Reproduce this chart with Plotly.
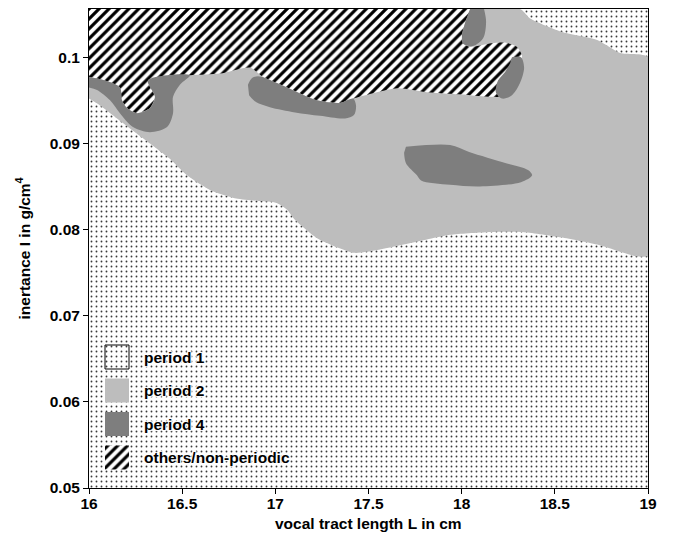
import plotly.graph_objects as go

# ---------------- data ----------------
X_RANGE = [16.0, 19.0]
Y_RANGE = [0.05, 0.1056]
X_TICKS = [16, 16.5, 17, 17.5, 18, 18.5, 19]
Y_TICKS = [0.05, 0.06, 0.07, 0.08, 0.09, 0.1]

# period 2 region: lower border (with period 1), left -> right
p2_low_x = [16.0, 16.059, 16.15, 16.247, 16.327, 16.429, 16.526, 16.649, 16.789, 16.918, 17.004, 17.063,
            17.106, 17.224, 17.422, 17.54, 17.739, 17.938, 18.136, 18.335, 18.533, 18.737, 18.936, 19.0]
p2_low_y = [0.0952, 0.0944, 0.0929, 0.0913, 0.0900, 0.0883, 0.0863, 0.0846, 0.0836, 0.0833, 0.0831, 0.0823,
            0.0811, 0.0790, 0.0773, 0.0776, 0.0785, 0.0794, 0.0797, 0.0797, 0.0791, 0.0782, 0.0769, 0.0770]
# period 2 region: border with the period-1 corner at upper right, right -> left
p2_up_x = [19.0, 18.85, 18.727, 18.544, 18.367, 18.313]
p2_up_y = [0.1000, 0.1005, 0.1020, 0.1029, 0.1045, 0.1056]

# others / non-periodic region (hatched)
hatch_x = [16.0, 18.045, 18.023, 18.002, 18.007, 18.045, 18.152, 18.233, 18.297, 18.324, 18.313, 18.286,
           18.249, 18.206, 18.168, 18.045, 17.83, 17.653, 17.417, 17.347, 17.224, 17.063, 16.934, 16.864,
           16.703, 16.542, 16.317, 16.354, 16.327, 16.258, 16.204, 16.177, 16.166, 16.086, 16.0]
hatch_y = [0.1056, 0.1056, 0.1043, 0.1026, 0.1016, 0.1012, 0.1016, 0.1017, 0.1012, 0.1002, 0.0991, 0.0973,
           0.0959, 0.0954, 0.0954, 0.0956, 0.0959, 0.0964, 0.0952, 0.0947, 0.0950, 0.0965, 0.0977, 0.0988,
           0.0981, 0.0979, 0.0973, 0.0954, 0.0941, 0.0935, 0.0941, 0.0950, 0.0965, 0.0973, 0.0977]

# period 4 islands
p4a_x = [16.0, 16.086, 16.166, 16.177, 16.204, 16.258, 16.327, 16.354, 16.317, 16.542, 16.488, 16.451,
         16.451, 16.419, 16.327, 16.236, 16.166, 16.113, 16.043, 16.0]
p4a_y = [0.0977, 0.0973, 0.0965, 0.0950, 0.0941, 0.0935, 0.0941, 0.0954, 0.0973, 0.0979, 0.0968, 0.0954,
         0.0935, 0.0919, 0.0913, 0.0919, 0.0935, 0.0950, 0.0962, 0.0965]
p4b_x = [16.853, 16.875, 16.907, 16.945, 17.063, 17.224, 17.347, 17.417, 17.433, 17.422, 17.374, 17.24,
         17.106, 16.971, 16.896, 16.859]
p4b_y = [0.0968, 0.0976, 0.0978, 0.0976, 0.0965, 0.0950, 0.0947, 0.0952, 0.0944, 0.0933, 0.0929, 0.0932,
         0.0936, 0.0942, 0.0948, 0.0956]
p4c_x = [17.701, 17.938, 18.04, 18.238, 18.356, 18.378, 18.318, 18.098, 17.938, 17.782, 17.76, 17.701, 17.691]
p4c_y = [0.0896, 0.0898, 0.0890, 0.0877, 0.0869, 0.0863, 0.0855, 0.0850, 0.0852, 0.0857, 0.0863, 0.0877, 0.0889]
p4d_x = [18.045, 18.023, 18.002, 18.007, 18.061, 18.115, 18.131, 18.12]
p4d_y = [0.1056, 0.1043, 0.1026, 0.1016, 0.1013, 0.1022, 0.1041, 0.1056]
p4e_x = [18.27, 18.318, 18.335, 18.313, 18.27, 18.217, 18.184, 18.195, 18.233, 18.26]
p4e_y = [0.1000, 0.1000, 0.0988, 0.0970, 0.0956, 0.0952, 0.0959, 0.0973, 0.0983, 0.0993]

legend_labels = ["period 1", "period 2", "period 4", "others/non-periodic"]

# ---------------- styles ----------------
FONT = "Liberation Sans, Arial, Helvetica, sans-serif"
GRAY2 = "#bdbdbd"
GRAY4 = "#7e7e7e"
DOTS = dict(shape=".", size=5, solidity=0.11, fgcolor="#3a3a3a", bgcolor="white", fillmode="replace")
HATCH = dict(shape="/", size=7, solidity=0.45, fgcolor="black", bgcolor="white", fillmode="replace")

fig = go.Figure()


def region(xs, ys, color=None, pattern=None, smooth=0.7, xaxis="x", yaxis="y", line=None):
    kw = dict(x=xs, y=ys, mode="lines", fill="toself", hoverinfo="skip", showlegend=False,
              xaxis=xaxis, yaxis=yaxis)
    if line is None:
        kw["line"] = dict(width=0, shape="spline", smoothing=smooth, color=color or "white")
    else:
        kw["line"] = line
    if pattern is not None:
        kw["fillpattern"] = pattern
        kw["fillcolor"] = "white"
    else:
        kw["fillcolor"] = color
    fig.add_trace(go.Scatter(**kw))


# period 1 background (whole parameter plane)
region([X_RANGE[0], X_RANGE[1], X_RANGE[1], X_RANGE[0]],
       [Y_RANGE[0], Y_RANGE[0], Y_RANGE[1], Y_RANGE[1]], pattern=DOTS, smooth=0)

# period 2
region(p2_low_x + p2_up_x + [X_RANGE[0]], p2_low_y + p2_up_y + [Y_RANGE[1]], color=GRAY2, smooth=0.6)

# others / non-periodic
region(hatch_x, hatch_y, pattern=HATCH, smooth=0.6)

# period 4 islands
for bx, by in [(p4a_x, p4a_y), (p4b_x, p4b_y), (p4c_x, p4c_y), (p4d_x, p4d_y), (p4e_x, p4e_y)]:
    region(bx, by, color=GRAY4, smooth=0.9)

# ---------------- legend (drawn in paper units on an overlay axis) ----------------
PLOT_W, PLOT_H = 559, 479
leg_x0 = 16 / PLOT_W
sw_w = 24 / PLOT_W
sw_h = 24 / PLOT_H
row0 = 131 / PLOT_H
pitch = 33.5 / PLOT_H
text_x = 53 / PLOT_W
leg_styles = [
    dict(pattern=DOTS, line=dict(width=1, color="black")),
    dict(color=GRAY2),
    dict(color=GRAY4),
    dict(pattern=HATCH),
]
annotations = []
for i, (lab, st) in enumerate(zip(legend_labels, leg_styles)):
    yc = row0 - i * pitch
    xs = [leg_x0, leg_x0 + sw_w, leg_x0 + sw_w, leg_x0, leg_x0]
    ys = [yc - sw_h / 2, yc - sw_h / 2, yc + sw_h / 2, yc + sw_h / 2, yc - sw_h / 2]
    region(xs, ys, color=st.get("color"), pattern=st.get("pattern"), smooth=0,
           xaxis="x2", yaxis="y2", line=st.get("line"))
    annotations.append(dict(
        x=text_x, y=yc, xref="paper", yref="paper", xanchor="left", yanchor="middle",
        text="<b>%s</b>" % lab, showarrow=False,
        font=dict(family=FONT, size=15.5, color="black",
                  shadow="1px 1px 1px white, -1px -1px 1px white, 1px -1px 1px white, -1px 1px 1px white")))

annotations.append(dict(x=0.5, y=0, xref="paper", yref="paper", yshift=-35, xanchor="center",
                        yanchor="middle", showarrow=False,
                        text="<b>vocal tract length L in cm</b>",
                        font=dict(family=FONT, size=15.5, color="black")))
annotations.append(dict(x=0, y=0.5, xref="paper", yref="paper", xshift=-66, xanchor="center",
                        yanchor="middle", showarrow=False, textangle=-90,
                        text="<b>inertance I in g/cm<sup>4</sup></b>",
                        font=dict(family=FONT, size=15.5, color="black")))

axis_common = dict(showgrid=False, zeroline=False, showline=True, linecolor="black", linewidth=1,
                   mirror=True, ticks="outside", ticklen=5, tickwidth=1, tickcolor="black",
                   tickfont=dict(family=FONT, size=15.5, color="black", weight="bold"))

fig.update_layout(
    width=673, height=543,
    margin=dict(l=89, r=25, t=9, b=55),
    paper_bgcolor="white", plot_bgcolor="white",
    showlegend=False,
    xaxis=dict(range=X_RANGE, tickvals=X_TICKS, ticktext=[("%g" % v) for v in X_TICKS],
               ticklabelstandoff=-4, **axis_common),
    yaxis=dict(range=Y_RANGE, tickvals=Y_TICKS, ticktext=[("%g" % v) for v in Y_TICKS], **axis_common),
    xaxis2=dict(domain=[0, 1], range=[0, 1], overlaying="x", visible=False, fixedrange=True),
    yaxis2=dict(domain=[0, 1], range=[0, 1], overlaying="y", visible=False, fixedrange=True),
    annotations=annotations,
)

fig.write_html("out.html")
